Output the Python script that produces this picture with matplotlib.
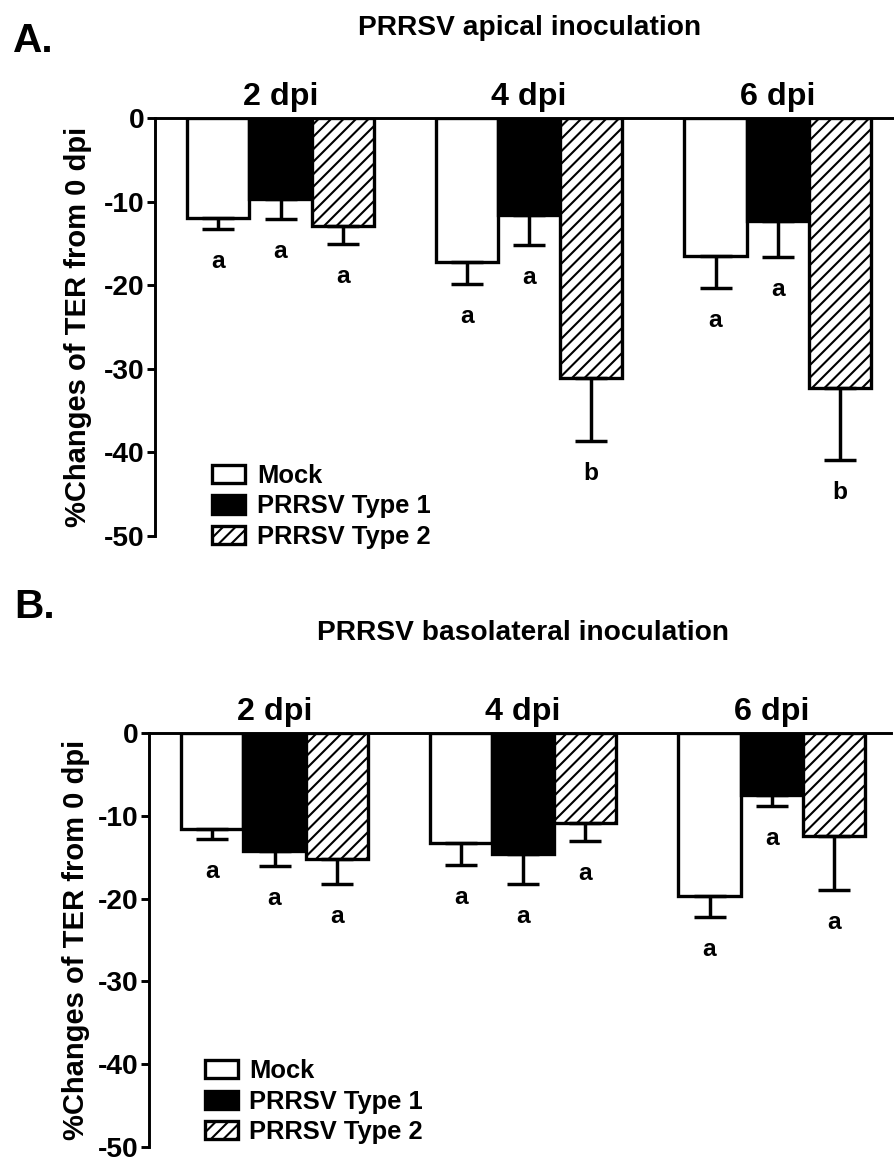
import matplotlib
matplotlib.use("Agg")
import matplotlib.pyplot as plt
import numpy as np

# TER change (%) from 0 dpi
groups = ["2 dpi", "4 dpi", "6 dpi"]
series = ["Mock", "PRRSV Type 1", "PRRSV Type 2"]

apical_mock = [-12.0, -17.2, -16.5]
apical_type1 = [-9.7, -11.6, -12.3]
apical_type2 = [-12.9, -31.1, -32.3]
apical_mock_err = [1.3, 2.7, 3.8]
apical_type1_err = [2.4, 3.6, 4.3]
apical_type2_err = [2.2, 7.5, 8.6]
apical_mock_let = ["a", "a", "a"]
apical_type1_let = ["a", "a", "a"]
apical_type2_let = ["a", "b", "b"]

baso_mock = [-11.6, -13.3, -19.7]
baso_type1 = [-14.3, -14.6, -7.5]
baso_type2 = [-15.2, -10.9, -12.4]
baso_mock_err = [1.2, 2.6, 2.5]
baso_type1_err = [1.8, 3.6, 1.3]
baso_type2_err = [3.0, 2.1, 6.6]
baso_mock_let = ["a", "a", "a"]
baso_type1_let = ["a", "a", "a"]
baso_type2_let = ["a", "a", "a"]

DPI = 75
W, H = 894, 1162

plt.rcParams["font.family"] = ["Liberation Sans", "DejaVu Sans"]
plt.rcParams["font.weight"] = "bold"
plt.rcParams["axes.unicode_minus"] = False
plt.rcParams["hatch.linewidth"] = 2.0


def panel(ax, means, errs, letters, leg_anchor, label_x):
    x = np.arange(len(groups))
    width = 0.25
    styles = [
        dict(facecolor="white"),
        dict(facecolor="black"),
        dict(facecolor="white", hatch="//"),
    ]
    for i, (m, e, lets, st) in enumerate(zip(means, errs, letters, styles)):
        pos = x + (i - 1) * width
        ax.bar(pos, m, width, edgecolor="black", linewidth=3.2, label=series[i], zorder=2, **st)
        ax.errorbar(pos, m, yerr=[e, np.zeros(len(e))], fmt="none", ecolor="black",
                    elinewidth=3.3, capsize=15.5, capthick=3.3, zorder=2)
        for p, v, ee, l in zip(pos, m, e, lets):
            ax.annotate(l, (p, v - ee), xytext=(0, -37.5), textcoords="offset points",
                        ha="center", va="baseline", fontsize=23.5, fontweight="bold")

    ax.set_xlim(-0.505, 2.48)
    ax.set_ylim(-50, 0)
    ax.set_yticks([0, -10, -20, -30, -40, -50])
    ax.tick_params(axis="y", direction="out", length=8, width=2.8, pad=2, labelsize=27)
    ax.xaxis.tick_top()
    ax.set_xticks(x)
    ax.set_xticklabels(groups)
    ax.tick_params(axis="x", length=0, pad=6, labelsize=31)
    for s in ["right", "bottom"]:
        ax.spines[s].set_visible(False)
    ax.spines["left"].set_linewidth(2.8)
    ax.spines["top"].set_linewidth(2.8)
    ax.set_ylabel("%Changes of TER from 0 dpi", fontsize=28, fontweight="bold")
    ax.yaxis.set_label_coords(label_x, 0.5)
    ax.legend(loc="upper left", bbox_to_anchor=leg_anchor, frameon=False,
              prop={"size": 24.5, "weight": "bold"}, handlelength=1.3, handleheight=0.72,
              handletextpad=0.45, labelspacing=0.25, borderpad=0, borderaxespad=0)


fig = plt.figure(figsize=(W / DPI, H / DPI), dpi=DPI)

ax1 = fig.add_axes([155 / W, 1 - 536 / H, 742 / W, 418 / H])
panel(ax1,
      [apical_mock, apical_type1, apical_type2],
      [apical_mock_err, apical_type1_err, apical_type2_err],
      [apical_mock_let, apical_type1_let, apical_type2_let],
      (0.077, 0.172), -0.085)

ax2 = fig.add_axes([149 / W, 1 - 1147 / H, 742 / W, 414 / H])
panel(ax2,
      [baso_mock, baso_type1, baso_type2],
      [baso_mock_err, baso_type1_err, baso_type2_err],
      [baso_mock_let, baso_type1_let, baso_type2_let],
      (0.075, 0.212), -0.08)

fig.text(13 / W, 1 - 52 / H, "A.", fontsize=39, fontweight="bold", va="baseline")
fig.text(530 / W, 1 - 35 / H, "PRRSV apical inoculation", fontsize=27,
         fontweight="bold", ha="center", va="baseline")
fig.text(14 / W, 1 - 618 / H, "B.", fontsize=39, fontweight="bold", va="baseline")
fig.text(523 / W, 1 - 640 / H, "PRRSV basolateral inoculation", fontsize=27,
         fontweight="bold", ha="center", va="baseline")

fig.savefig("out.png", dpi=DPI, facecolor="white")
